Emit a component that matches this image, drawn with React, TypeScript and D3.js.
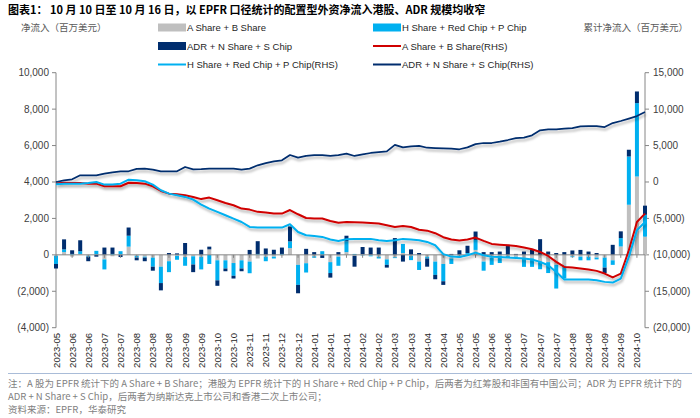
import React from 'react';
import * as d3 from 'd3';

const weeks = [
  '2023-05-24','2023-05-31','2023-06-07','2023-06-14','2023-06-21','2023-06-28','2023-07-05','2023-07-12','2023-07-19','2023-07-26',
  '2023-08-02','2023-08-09','2023-08-16','2023-08-23','2023-08-30','2023-09-06','2023-09-13','2023-09-20','2023-09-27','2023-10-04',
  '2023-10-11','2023-10-18','2023-10-25','2023-11-01','2023-11-08','2023-11-15','2023-11-22','2023-11-29','2023-12-06','2023-12-13',
  '2023-12-20','2023-12-27','2024-01-03','2024-01-10','2024-01-17','2024-01-24','2024-01-31','2024-02-07','2024-02-14','2024-02-21',
  '2024-02-28','2024-03-06','2024-03-13','2024-03-20','2024-03-27','2024-04-03','2024-04-10','2024-04-17','2024-04-24','2024-05-01',
  '2024-05-08','2024-05-15','2024-05-22','2024-05-29','2024-06-05','2024-06-12','2024-06-19','2024-06-26','2024-07-03','2024-07-10',
  '2024-07-17','2024-07-24','2024-07-31','2024-08-07','2024-08-14','2024-08-21','2024-08-28','2024-09-04','2024-09-11','2024-09-18',
  '2024-09-25','2024-10-02','2024-10-09','2024-10-16'
];

// weekly net flows, USD mn (left axis)
const aShare = [
  -50,150,-100,50,-50,20,-250,-80,20,450,
  -50,-100,-150,-650,-350,-50,-120,-80,-100,300,
  -300,-300,-450,-300,-370,-200,-100,-100,-30,370,
  -550,-460,-80,-20,-400,-100,150,-50,30,-30,
  -100,-250,-130,100,-50,-370,-100,-370,-500,-200,
  -50,50,270,-370,-150,-50,-50,-100,-200,-200,
  -370,-400,-550,-600,-80,-100,-100,-150,-150,-300,
  460,2750,4300,1000
];
const hShare = [
  -450,150,50,150,-50,200,-550,50,180,600,
  -100,-50,-500,-900,-600,-220,-480,-450,-700,-500,
  -1100,-450,-700,-450,-640,50,-250,-100,50,370,
  -1100,-510,-80,200,-600,-500,600,50,-30,-50,
  -100,-300,-50,500,-240,-460,-100,-730,-950,-300,
  -100,50,550,-500,-400,-400,-100,-50,-460,-460,
  -420,-600,-1300,-700,-50,-200,-200,-100,-550,-250,
  460,2650,4030,1200
];
const adrShare = [
  -250,550,200,600,-250,-100,400,350,-120,450,
  -150,-200,-220,-400,100,80,650,-420,280,150,
  -300,-150,-150,-150,270,700,350,280,350,820,
  -460,330,150,-150,-250,150,300,-600,400,400,
  400,-150,920,-370,300,100,-450,-240,-200,50,
  250,400,460,150,150,180,550,50,180,270,
  860,180,100,150,240,270,180,100,-300,550,
  370,370,640,500
];

// cumulative net flows, USD mn (right axis)
const aCum = [
  -200,-100,-140,-140,-230,-230,-590,-590,-590,-100,
  -140,-230,-590,-1230,-1600,-1690,-1820,-2050,-2350,-2140,
  -2510,-2880,-3200,-3650,-3790,-4100,-4200,-4340,-4340,-3850,
  -4430,-4940,-5020,-5020,-5350,-5600,-5500,-5530,-5570,-5620,
  -5710,-5940,-6170,-6030,-6170,-6550,-6680,-7030,-7580,-7900,
  -8030,-7900,-7630,-8090,-8500,-8600,-8680,-8780,-9000,-9230,
  -9600,-10150,-10970,-11660,-11740,-11880,-12020,-12200,-12570,-13100,
  -12570,-9370,-5490,-4340
];
const hCum = [
  -320,-230,-230,-230,-140,0,-360,-360,-230,320,
  230,100,-360,-1140,-1600,-1820,-2050,-2410,-3100,-3650,
  -4100,-4570,-5020,-5490,-6170,-6260,-6260,-6260,-6260,-5800,
  -6860,-7310,-7400,-7540,-7900,-8100,-7850,-7810,-7810,-7810,
  -8000,-8090,-8000,-7810,-7900,-8000,-8230,-8680,-9900,-10240,
  -10300,-10050,-9690,-10050,-10250,-10280,-10370,-10420,-10510,-10650,
  -10970,-11430,-12350,-13390,-13390,-13390,-13390,-13480,-13710,-13800,
  -13250,-10280,-6630,-5490
];
const adrCum = [
  0,230,370,920,920,900,1150,1330,1470,1470,
  1790,1830,1700,1470,1470,1470,2060,1740,1760,1830,
  1830,1830,1830,1700,1830,2290,2600,2840,2980,3700,
  3340,3570,3700,3700,3570,3700,3880,3570,3800,3980,
  4100,4200,5100,4750,4900,4950,4700,4650,4620,4580,
  4490,4750,5200,5350,5350,5540,5760,6030,6090,6400,
  7090,7230,7230,7320,7400,7640,7680,7680,7540,8090,
  8370,8700,9050,9600
];

const leftTicks = [-4000, -2000, 0, 2000, 4000, 6000, 8000, 10000];
const rightTicks = [-20000, -15000, -10000, -5000, 0, 5000, 10000, 15000];

const seriesNames = ['A Share + B Share', 'H Share + Red Chip + P Chip', 'ADR + N Share + S Chip'];
const lineNames = ['A Share + B Share(RHS)', 'H Share + Red Chip + P Chip(RHS)', 'ADR + N Share + S Chip(RHS)'];

const C_GRAY = '#BFBFBF';
const C_LBLUE = '#00B0F0';
const C_NAVY = '#002D6E';
const C_RED = '#D00000';

const LATIN = '"Liberation Sans", Arial, "Noto Sans CJK SC", sans-serif';
const CJK = '"Noto Sans CJK SC", "Liberation Sans", sans-serif';

const fmt = (v: number) => (v < 0 ? `(${d3.format(',')(-v)})` : d3.format(',')(v));

export default function App() {
  const W = 700, H = 418;
  const x0 = 56, x1 = 645, yTop = 72.7, yBot = 327.7;

  const idx = weeks.map((_, i) => i);
  const x = d3.scalePoint<number>().domain(idx).range([x0, x1]);
  const yL = d3.scaleLinear().domain([-4000, 10000]).range([yBot, yTop]);
  const yR = d3.scaleLinear().domain([-20000, 15000]).range([yBot, yTop]);

  const rows = weeks.map((w, i) => ({ a: aShare[i], h: hShare[i], adr: adrShare[i] }));
  const stack = d3.stack<any>().keys(['a', 'h', 'adr']).offset(d3.stackOffsetDiverging);
  const stacked = stack(rows);
  const barColors = [C_GRAY, C_LBLUE, C_NAVY];
  const bw = 4;

  const line = (arr: number[]) =>
    d3.line<number>().x((_, i) => x(i) as number).y((v) => yR(v))(arr) as string;

  const legendBar = (lx: number, ly: number, color: string, label: string) => (
    <g key={label}>
      <rect x={lx} y={ly - 4} width={28} height={8} fill={color} />
      <text x={lx + 29} y={ly + 3.5} fontSize={9.5} fill="#262626" fontFamily={LATIN}>{label}</text>
    </g>
  );
  const legendLine = (lx: number, ly: number, color: string, label: string) => (
    <g key={label}>
      <line x1={lx} x2={lx + 28} y1={ly} y2={ly} stroke={color} strokeWidth={2} />
      <text x={lx + 29} y={ly + 3.5} fontSize={9.5} fill="#262626" fontFamily={LATIN}>{label}</text>
    </g>
  );

  return (
    <svg width={W} height={H} style={{ position: 'absolute', left: 0, top: 0, background: '#fff' }}>
      <defs>
        <filter id="sh" x="-5%" y="-30%" width="110%" height="160%">
          <feDropShadow dx="1" dy="2.5" stdDeviation="1.2" floodColor="#000" floodOpacity="0.3" />
        </filter>
      </defs>

      <text x={8} y={14} fontSize={11} fontWeight="bold" fill="#000" fontFamily={CJK}>
        图表1：  10 月 10 日至 10 月 16 日，以 EPFR 口径统计的配置型外资净流入港股、ADR 规模均收窄
      </text>

      <text x={21} y={31} fontSize={9.5} fill="#595959" fontFamily={CJK}>净流入（百万美元）</text>
      <text x={688} y={31} fontSize={9.5} fill="#595959" fontFamily={CJK} textAnchor="end">累计净流入（百万美元）</text>

      {legendBar(158, 27.5, C_GRAY, seriesNames[0])}
      {legendBar(373, 27.5, C_LBLUE, seriesNames[1])}
      {legendBar(158, 46, C_NAVY, seriesNames[2])}
      {legendLine(373, 46, C_RED, lineNames[0])}
      {legendLine(158, 64.5, C_LBLUE, lineNames[1])}
      {legendLine(373, 64.5, C_NAVY, lineNames[2])}

      {/* left axis */}
      <line x1={x0} x2={x0} y1={yTop} y2={yBot} stroke="#868686" />
      {leftTicks.map((t) => (
        <g key={'l' + t}>
          <line x1={x0 - 4} x2={x0} y1={yL(t)} y2={yL(t)} stroke="#868686" />
          <text x={49} y={yL(t) + 3.5} fontSize={10} textAnchor="end" fill="#404040" fontFamily={LATIN}>{fmt(t)}</text>
        </g>
      ))}
      {/* right axis */}
      <line x1={x1} x2={x1} y1={yTop} y2={yBot} stroke="#868686" />
      {rightTicks.map((t) => (
        <g key={'r' + t}>
          <line x1={x1} x2={x1 + 4} y1={yR(t)} y2={yR(t)} stroke="#868686" />
          <text x={653} y={yR(t) + 3.5} fontSize={10} textAnchor="start" fill="#404040" fontFamily={LATIN}>{fmt(t)}</text>
        </g>
      ))}

      {/* bars */}
      {stacked.map((s, k) => (
        <g key={'s' + k} fill={barColors[k]}>
          {s.map((d, i) => {
            const ya = yL(d[0]), yb = yL(d[1]);
            const top = Math.min(ya, yb), h = Math.abs(ya - yb);
            return h > 0 ? <rect key={i} x={(x(i) as number) - bw / 2} y={top} width={bw} height={h} /> : null;
          })}
        </g>
      ))}

      {/* zero / category axis */}
      <line x1={x0} x2={x1} y1={yL(0)} y2={yL(0)} stroke="#868686" />
      {idx.filter((i) => i % 2 === 0).map((i) => (
        <line key={'xt' + i} x1={x(i)} x2={x(i)} y1={yL(0)} y2={yL(0) + 3} stroke="#868686" />
      ))}

      {/* lines */}
      <g fill="none" filter="url(#sh)" strokeLinejoin="round">
        <path d={line(aCum)} stroke={C_RED} strokeWidth={2} />
        <path d={line(hCum)} stroke={C_LBLUE} strokeWidth={2} />
        <path d={line(adrCum)} stroke={C_NAVY} strokeWidth={1.75} />
      </g>

      {/* x labels */}
      {idx.filter((i) => i % 2 === 0).map((i) => (
        <text key={'xl' + i} transform={`translate(${(x(i) as number) + 3.5},333) rotate(-90)`} fontSize={9.5}
          textAnchor="end" fill="#262626" fontFamily={LATIN}>{weeks[i].slice(0, 7)}</text>
      ))}

      {/* footer */}
      <line x1={8} x2={692} y1={373.5} y2={373.5} stroke="#A9BCD8" strokeWidth={1.2} />
      <text x={8} y={387} fontSize={9.5} fill="#7F7F7F" fontFamily={CJK}>
        注：A 股为 EPFR 统计下的 A Share + B Share；港股为 EPFR 统计下的 H Share + Red Chip + P Chip，后两者为红筹股和非国有中国公司；ADR 为 EPFR 统计下的
      </text>
      <text x={8} y={400} fontSize={9.5} fill="#7F7F7F" fontFamily={CJK}>
        ADR + N Share + S Chip，后两者为纳斯达克上市公司和香港二次上市公司；
      </text>
      <text x={8} y={413} fontSize={9.5} fill="#7F7F7F" fontFamily={CJK}>资料来源：EPFR，华泰研究</text>
    </svg>
  );
}
